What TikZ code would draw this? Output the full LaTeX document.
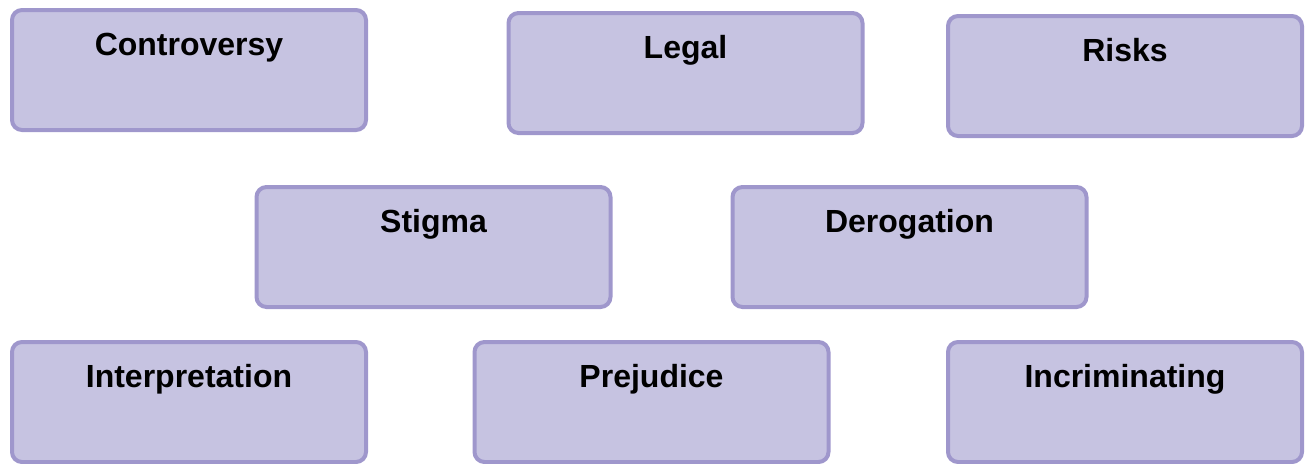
\documentclass[tikz,border=0pt]{standalone}
\usepackage{fontspec}
\setmainfont{Liberation Sans}
\usepackage{xcolor}
\definecolor{boxfill}{RGB}{198,195,225}
\definecolor{boxline}{RGB}{159,151,204}

\begin{document}
\begin{tikzpicture}[x=0.5pt,y=-0.5pt,
    topic/.style={draw=boxline,fill=boxfill,line width=2pt,rounded corners=5pt,
        minimum width=177pt,inner sep=0pt,text height=22.5pt,text depth=37.5pt,
        font=\fontsize{16}{19}\selectfont\bfseries}]
    \clip (0,0) rectangle (1308,463);
    \node[topic] (contro) at (189,70) {Controversy};
    \node[topic] (legal) at (685.5,73) {Legal};
    \node[topic] (risks) at (1125,76) {Risks};
    \node[topic] (stigma) at (433.5,247) {Stigma};
    \node[topic] (derog) at (909.5,247) {Derogation};
    \node[topic] (interp) at (189,402) {Interpretation};
    \node[topic] (prejud) at (651.5,402) {Prejudice};
    \node[topic] (incrim) at (1125,402) {Incriminating};
\end{tikzpicture}
\end{document}
